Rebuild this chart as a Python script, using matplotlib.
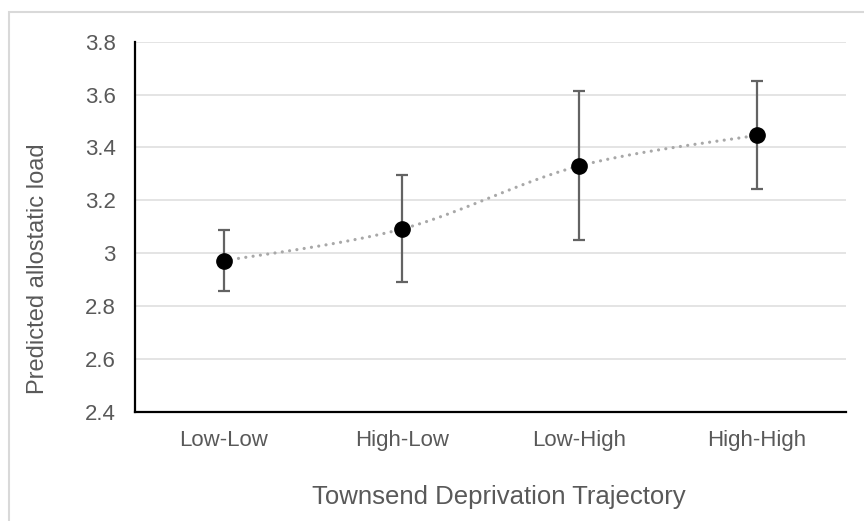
import numpy as np
import matplotlib
matplotlib.use("Agg")
import matplotlib.pyplot as plt
from matplotlib.patches import Rectangle

# Predicted allostatic load by deprivation trajectory, with 95% CI bounds
categories = ["Low-Low", "High-Low", "Low-High", "High-High"]
predicted = [2.971, 3.091, 3.330, 3.446]
ci_lower = [2.858, 2.892, 3.048, 3.243]
ci_upper = [3.087, 3.296, 3.612, 3.651]
y_ticks = [2.4, 2.6, 2.8, 3.0, 3.2, 3.4, 3.6, 3.8]
y_tick_labels = ["2.4", "2.6", "2.8", "3", "3.2", "3.4", "3.6", "3.8"]

text_color = "#595959"
plt.rcParams["font.family"] = ["Liberation Sans", "DejaVu Sans"]


def smooth_line(xs, ys, n=40):
    # Catmull-Rom style smoothing through the points (like a spreadsheet "smoothed line")
    xs = np.asarray(xs, float)
    ys = np.asarray(ys, float)
    px = np.concatenate([[xs[0]], xs, [xs[-1]]])
    py = np.concatenate([[ys[0]], ys, [ys[-1]]])
    out_x, out_y = [], []
    for i in range(1, len(px) - 2):
        p0, p1, p2, p3 = [np.array([px[j], py[j]]) for j in (i - 1, i, i + 1, i + 2)]
        c1 = p1 + (p2 - p0) / 6.0
        c2 = p2 - (p3 - p1) / 6.0
        t = np.linspace(0, 1, n)[:, None]
        seg = ((1 - t) ** 3) * p1 + 3 * ((1 - t) ** 2) * t * c1 + 3 * (1 - t) * t ** 2 * c2 + t ** 3 * p2
        out_x.extend(seg[:, 0])
        out_y.extend(seg[:, 1])
    return np.array(out_x), np.array(out_y)


x = np.arange(len(categories))
pred = np.array(predicted)
yerr = np.array([pred - np.array(ci_lower), np.array(ci_upper) - pred])

fig = plt.figure(figsize=(8.64, 5.21), dpi=100)
ax = fig.add_axes([0.1563, 0.2098, 0.8229, 0.7102])

# light frame around the chart area
fig.patches.append(Rectangle((0.0104, -0.05), 1.0, 0.977 + 0.05, transform=fig.transFigure,
                             fill=False, ec="#d9d9d9", lw=1.5, clip_on=False))

sx, sy = smooth_line(x, pred)
ax.plot(sx, sy, color="#a8a8a8", lw=2.3, linestyle=(0, (0.01, 2.3)),
        dash_capstyle="round", zorder=2)

ax.errorbar(x, pred, yerr=yerr, fmt="none", ecolor="#636363", elinewidth=1.6,
            capsize=4.3, capthick=1.6, zorder=3)
ax.plot(x, pred, "o", color="black", markersize=11, zorder=4)

ax.set_xlim(-0.5, 3.5)
ax.set_ylim(2.4, 3.8)
ax.set_yticks(y_ticks)
ax.set_yticklabels(y_tick_labels)
ax.set_xticks(x)
ax.set_xticklabels(categories)
ax.yaxis.grid(True, color="#dcdcdc", lw=1.1)
ax.set_axisbelow(True)

ax.tick_params(axis="both", length=0, labelsize=16, labelcolor=text_color)
ax.tick_params(axis="y", pad=14)
ax.tick_params(axis="x", pad=13)

for side in ("top", "right"):
    ax.spines[side].set_visible(False)
for side in ("left", "bottom"):
    ax.spines[side].set_color("black")
    ax.spines[side].set_linewidth(1.6)

ax.set_xlabel("Townsend Deprivation Trajectory", fontsize=18.5, color=text_color, va="center")
ax.xaxis.set_label_coords(0.512, -0.2305)
ax.set_ylabel("Predicted allostatic load", fontsize=17, color=text_color, va="center")
ax.yaxis.set_label_coords(-0.136, 0.386)

fig.savefig("out.png", dpi=100)
